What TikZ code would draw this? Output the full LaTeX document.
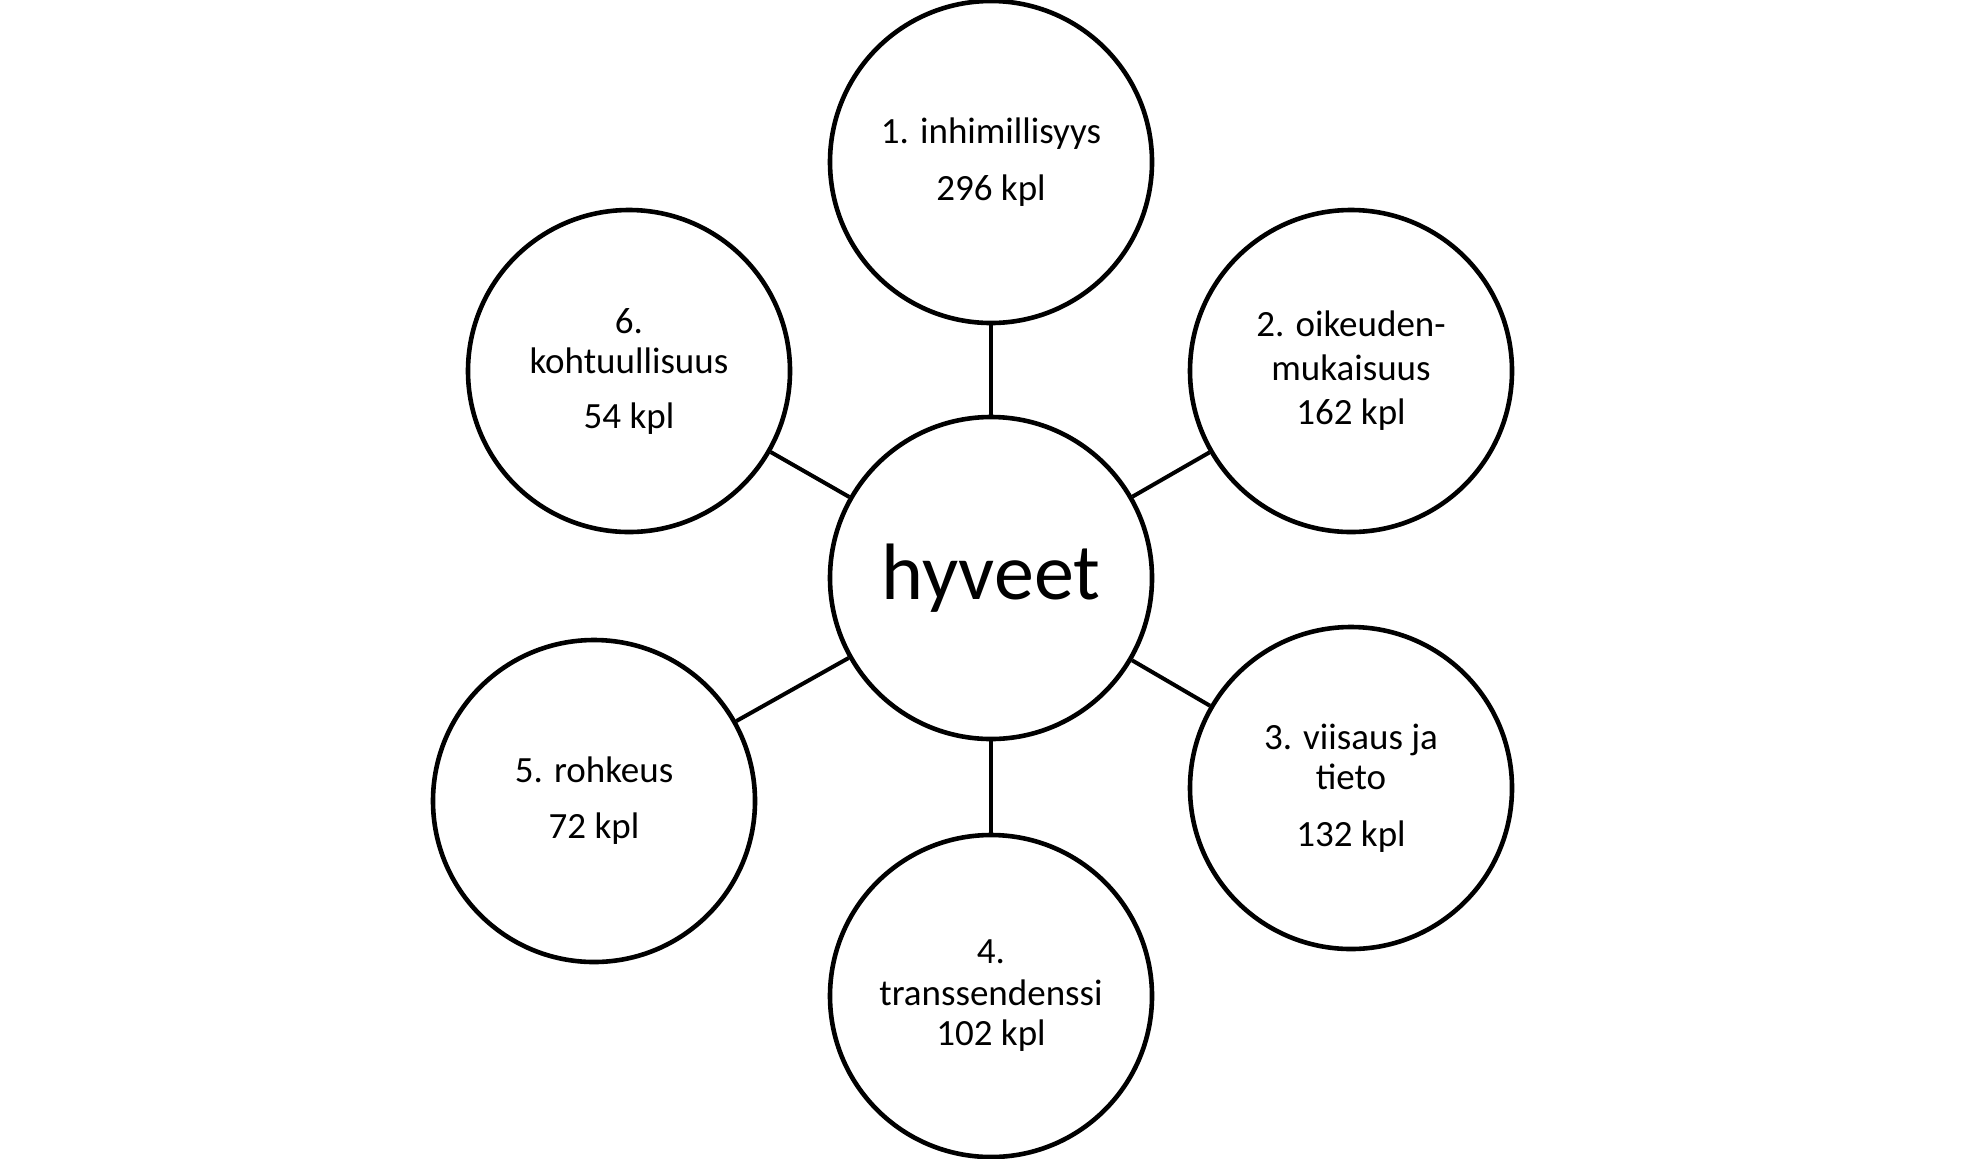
\documentclass[tikz,border=0pt]{standalone}
\usepackage{fontspec}
\setmainfont{Carlito}
\begin{document}
\begin{tikzpicture}[x=0.5pt,y=-0.5pt,
  bubble/.style={circle,draw=black,line width=2.3pt,minimum size=161pt,inner sep=0pt,align=center,
    font=\fontsize{18.5}{22}\selectfont},
  hub/.style={bubble,font=\fontsize{40}{48}\selectfont},
  link/.style={draw=black,line width=2pt}]
\useasboundingbox (0,0) rectangle (1980,1158);
\node[hub] (c) at (991,578) {hyveet};
\node[bubble] (n1) at (991,162) {1. inhimillisyys\\[6.5pt]296 kpl};
\node[bubble] (n2) at (1351,371) {2. oikeuden-\\mukaisuus\\162 kpl};
\node[bubble] (n3) at (1351,788) {3. viisaus ja\\[-2pt]tieto\\[6.5pt]132 kpl};
\node[bubble] (n4) at (991,996) {4.\\[-1pt]transsendenssi\\[-2pt]102 kpl};
\node[bubble] (n5) at (594,801) {5. rohkeus\\[6pt]72 kpl};
\node[bubble] (n6) at (629,371) {6.\\[-2pt]kohtuullisuus\\[5.5pt]54 kpl};
\foreach \n in {n1,n2,n3,n4,n5,n6}{\path[link] (c) -- (\n);}
\end{tikzpicture}
\end{document}
